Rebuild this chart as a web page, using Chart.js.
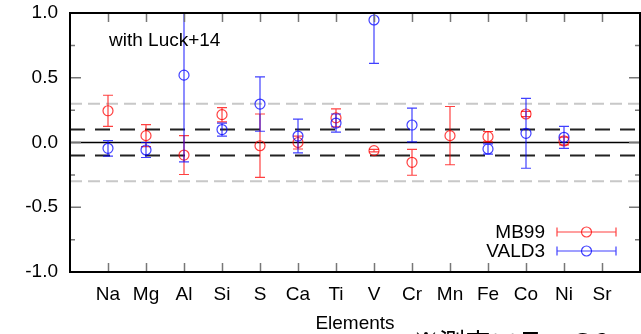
<!DOCTYPE html>
<html>
<head>
<meta charset="utf-8">
<script src="https://cdn.jsdelivr.net/npm/chart.js@4"></script>
<style>
  body { margin: 0; background: #fff; overflow: hidden; }
  #wrap { position: relative; width: 641px; height: 334px; }
  #note { position: absolute; left: 413px; top: 328px; font-family: "Noto Sans CJK JP"; font-size: 26px; line-height: 1; white-space: nowrap; color: #000; }
</style>
</head>
<body>
<div id="wrap">
  <canvas id="chart" width="641" height="334"></canvas>
  <div id="note">※測定エラーの3</div>
</div>
<script>
const elements = ['Na', 'Mg', 'Al', 'Si', 'S', 'Ca', 'Ti', 'V', 'Cr', 'Mn', 'Fe', 'Co', 'Ni', 'Sr'];

// [X/Fe] differences, MB99 line list
const mb99 = [0.245, 0.053, -0.097, 0.215, -0.025, 0.0, 0.19, -0.063, -0.153, 0.053, 0.045, 0.22, 0.012, null];
const mb99Err = [0.12, 0.085, 0.15, 0.055, 0.245, 0.05, 0.07, 0.01, 0.1, 0.225, 0.04, 0.02, 0.03, null];

// VALD3 line list
const vald3 = [-0.045, -0.058, 0.52, 0.1, 0.297, 0.05, 0.15, 0.946, 0.135, null, -0.05, 0.071, 0.04, null];
const vald3Err = [0.06, 0.058, 0.67, 0.05, 0.21, 0.13, 0.07, 0.335, 0.13, null, 0.04, 0.27, 0.085, null];

const yTicks = [-1, -0.5, 0, 0.5, 1];
const yMinorTicks = [-0.75, -0.25, 0.25, 0.75];
const innerLimit = 0.1;
const outerLimit = 0.3;

const RED = 'rgba(255,0,0,0.75)';
const BLUE = 'rgba(0,0,255,0.75)';
const FONT = '"Liberation Sans", Arial, sans-serif';

function points(vals, errs) {
  const out = [];
  vals.forEach((v, i) => {
    if (v !== null) out.push({ x: i + 1, y: v, e: errs[i] });
  });
  return out;
}

function hline(level, color, dash) {
  return {
    type: 'line',
    data: [{ x: 0, y: level }, { x: elements.length + 1, y: level }],
    borderColor: color,
    borderWidth: dash ? 2 : 1.5,
    borderDash: dash || [],
    pointRadius: 0,
    order: 3
  };
}

const decor = {
  id: 'decor',
  afterDatasetDraw(chart, args) {
    const ds = chart.data.datasets[args.index];
    if (!ds.errorBars) return;
    const { ctx, chartArea: a, scales: { x, y } } = chart;
    ctx.save();
    ctx.beginPath();
    ctx.rect(a.left, a.top, a.right - a.left, a.bottom - a.top);
    ctx.clip();
    ctx.strokeStyle = ds.borderColor;
    ctx.lineWidth = 1.2;
    ds.data.forEach(p => {
      const px = x.getPixelForValue(p.x);
      const top = y.getPixelForValue(p.y + p.e);
      const bot = y.getPixelForValue(p.y - p.e);
      ctx.beginPath();
      ctx.moveTo(px, top); ctx.lineTo(px, bot);
      ctx.moveTo(px - 5, top); ctx.lineTo(px + 5, top);
      ctx.moveTo(px - 5, bot); ctx.lineTo(px + 5, bot);
      ctx.stroke();
    });
    ctx.restore();
  },
  afterDraw(chart) {
    const { ctx, chartArea: a, scales: { x, y } } = chart;
    ctx.save();

    // mirrored inward ticks, gnuplot style
    ctx.strokeStyle = '#777';
    ctx.lineWidth = 1.5;
    ctx.beginPath();
    elements.forEach((_, i) => {
      const px = Math.round(x.getPixelForValue(i + 1)) + 0.5;
      ctx.moveTo(px, a.bottom); ctx.lineTo(px, a.bottom - 9);
      ctx.moveTo(px, a.top); ctx.lineTo(px, a.top + 9);
    });
    yTicks.forEach(v => {
      const py = y.getPixelForValue(v);
      ctx.moveTo(a.left, py); ctx.lineTo(a.left + 11, py);
      ctx.moveTo(a.right, py); ctx.lineTo(a.right - 11, py);
    });
    yMinorTicks.forEach(v => {
      const py = y.getPixelForValue(v);
      ctx.moveTo(a.left, py); ctx.lineTo(a.left + 5, py);
      ctx.moveTo(a.right, py); ctx.lineTo(a.right - 5, py);
    });
    ctx.stroke();

    // frame
    ctx.strokeStyle = '#000';
    ctx.lineWidth = 2;
    ctx.strokeRect(a.left, a.top, a.right - a.left, a.bottom - a.top);

    // label inside plot
    ctx.fillStyle = '#000';
    ctx.font = '19px ' + FONT;
    ctx.textBaseline = 'alphabetic';
    ctx.textAlign = 'left';
    ctx.fillText('with Luck+14', 109, 46);

    // legend
    const items = [['MB99', RED, 232], ['VALD3', BLUE, 251]];
    ctx.textAlign = 'right';
    ctx.textBaseline = 'middle';
    items.forEach(([label, color, ly]) => {
      ctx.fillStyle = '#000';
      ctx.fillText(label, 545, ly + 1);
      ctx.strokeStyle = color;
      ctx.lineWidth = 1.2;
      ctx.beginPath();
      ctx.moveTo(557, ly); ctx.lineTo(616, ly);
      ctx.moveTo(557, ly - 4.5); ctx.lineTo(557, ly + 4.5);
      ctx.moveTo(616, ly - 4.5); ctx.lineTo(616, ly + 4.5);
      ctx.stroke();
      ctx.beginPath();
      ctx.arc(586.5, ly, 5, 0, Math.PI * 2);
      ctx.stroke();
    });
    ctx.restore();
  }
};

new Chart(document.getElementById('chart'), {
  type: 'scatter',
  data: {
    datasets: [
      {
        label: 'VALD3',
        data: points(vald3, vald3Err),
        errorBars: true,
        borderColor: BLUE,
        backgroundColor: 'rgba(0,0,0,0)',
        borderWidth: 1.2,
        pointRadius: 5,
        order: 0
      },
      {
        label: 'MB99',
        data: points(mb99, mb99Err),
        errorBars: true,
        borderColor: RED,
        backgroundColor: 'rgba(0,0,0,0)',
        borderWidth: 1.2,
        pointRadius: 5,
        order: 1
      },
      hline(0, '#000', null),
      hline(innerLimit, '#222', [15, 10]),
      hline(-innerLimit, '#222', [15, 10]),
      hline(outerLimit, '#c8c8c8', [12, 6]),
      hline(-outerLimit, '#c8c8c8', [12, 6])
    ]
  },
  options: {
    responsive: false,
    devicePixelRatio: 1,
    animation: false,
    layout: { autoPadding: false, padding: { top: 13, right: 1, bottom: 0, left: 0 } },
    plugins: { legend: { display: false }, tooltip: { enabled: false } },
    scales: {
      x: {
        type: 'linear',
        min: 0,
        max: elements.length + 1,
        afterBuildTicks: s => { s.ticks = elements.map((_, i) => ({ value: i + 1 })); },
        afterFit: s => { s.height = 62; s.paddingLeft = 0; s.paddingRight = 0; },
        grid: { display: false },
        border: { display: false },
        ticks: {
          autoSkip: false,
          maxRotation: 0,
          padding: 3,
          color: '#000',
          font: { family: FONT, size: 19 },
          callback: v => elements[v - 1] || ''
        },
        title: {
          display: true,
          text: 'Elements',
          color: '#000',
          font: { family: FONT, size: 19 },
          padding: { top: 0, bottom: -1 }
        }
      },
      y: {
        min: -1,
        max: 1,
        afterBuildTicks: s => { s.ticks = yTicks.map(v => ({ value: v })); },
        afterFit: s => { s.width = 70; s.paddingTop = 0; s.paddingBottom = 0; },
        grid: { display: false },
        border: { display: false },
        ticks: {
          padding: 4,
          color: '#000',
          font: { family: FONT, size: 19 },
          callback: v => v.toFixed(1)
        }
      }
    }
  },
  plugins: [decor]
});
</script>
</body>
</html>
